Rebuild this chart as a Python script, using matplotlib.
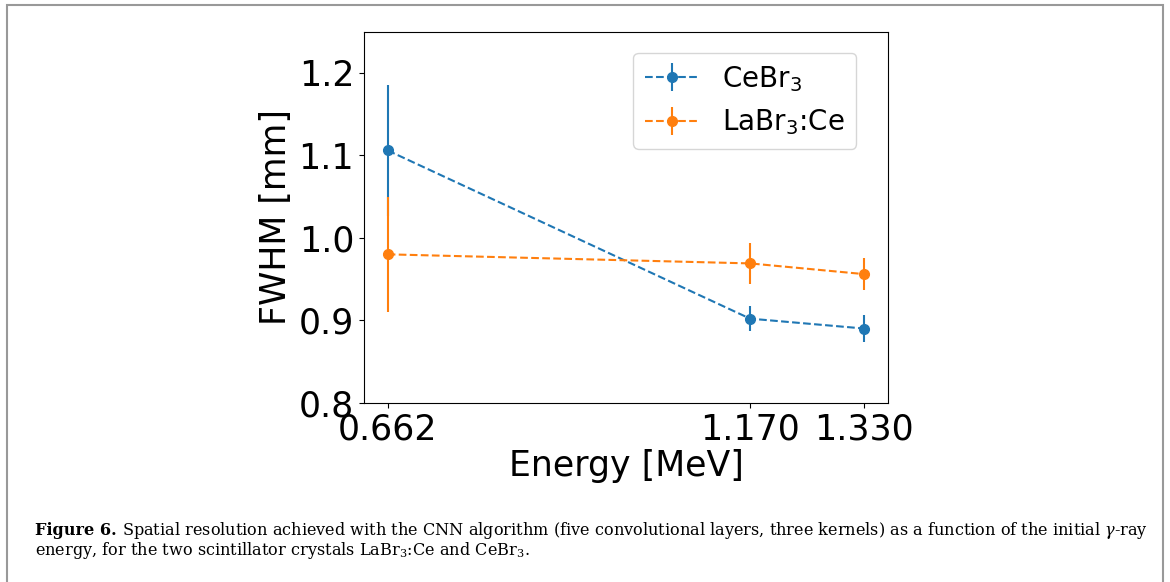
import numpy as np
import matplotlib.pyplot as plt
from matplotlib.patches import Rectangle

# energies [MeV] and tick labels
energy = [0.662, 1.170, 1.330]
tick_labels = ["0.662", "1.170", "1.330"]

# FWHM [mm] and errors
cebr3_fwhm = [1.106, 0.902, 0.890]
cebr3_err = [0.079, 0.015, 0.016]
labr3_fwhm = [0.980, 0.969, 0.956]
labr3_err = [0.070, 0.025, 0.019]


def main():
    fig = plt.figure(figsize=(11.7, 5.82), dpi=100)
    ax = fig.add_axes([0.311, 0.308, 0.448, 0.6375])

    ax.errorbar(energy, cebr3_fwhm, yerr=cebr3_err, fmt='o--', color='C0',
                markersize=7, label=r'CeBr$_3$')
    ax.errorbar(energy, labr3_fwhm, yerr=labr3_err, fmt='o--', color='C1',
                markersize=7, label=r'LaBr$_3$:Ce')

    ax.set_ylim(0.8, 1.25)
    ax.set_yticks([0.8, 0.9, 1.0, 1.1, 1.2])
    ax.set_xticks(energy)
    ax.set_xticklabels(tick_labels)
    ax.tick_params(labelsize=25)
    ax.set_xlabel("Energy [MeV]", fontsize=25, labelpad=2)
    ax.set_ylabel("FWHM [mm]", fontsize=25, labelpad=4)
    ax.legend(loc='upper right', bbox_to_anchor=(0.939, 0.943),
              borderaxespad=0, fontsize=20)

    # caption box as in the paper
    fig.add_artist(Rectangle((7 / 1170, -0.1), (1163 - 7) / 1170, 1.1 - 5 / 582,
                             transform=fig.transFigure, fill=False,
                             edgecolor='#999999', linewidth=1.5))
    cap_kw = dict(family='DejaVu Serif', fontsize=11.6, math_fontfamily='dejavuserif')
    t = fig.text(35 / 1170, 1 - 535 / 582, "Figure 6.", weight='bold',
                 va='baseline', **cap_kw)
    fig.canvas.draw()
    bb = t.get_window_extent()
    fig.text(bb.x1 / 1170 + 0.005, 1 - 535 / 582,
             "Spatial resolution achieved with the CNN algorithm (five convolutional "
             "layers, three kernels) as a function of the initial $\\gamma$-ray",
             va='baseline', **cap_kw)
    fig.text(35 / 1170, 1 - 555 / 582,
             "energy, for the two scintillator crystals LaBr$_3$:Ce and CeBr$_3$.",
             va='baseline', **cap_kw)

    fig.savefig("out.png", dpi=100)


main()
